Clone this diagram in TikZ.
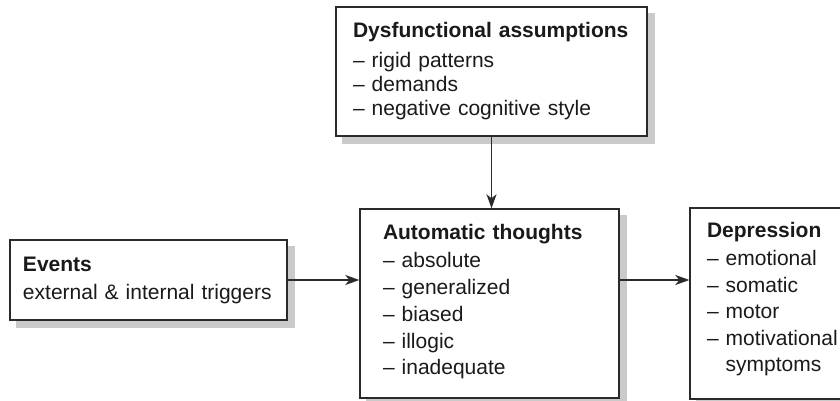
\documentclass[tikz,border=0pt]{standalone}
\usepackage{fontspec}
\setmainfont{Liberation Sans}
\usetikzlibrary{arrows.meta,backgrounds}

\definecolor{boxline}{HTML}{2A2A2A}
\definecolor{textdark}{HTML}{1A1A1A}
\definecolor{shadowgray}{HTML}{CACACA}

\tikzset{
  stage/.style={draw=boxline, line width=1.4pt, fill=white, text=textdark,
    align=left, inner ysep=0pt, font=\fontsize{21}{#1}\selectfont},
  flow/.style={draw=boxline, line width=1.4pt, -{Stealth[length=14pt,width=10pt,inset=4pt]}}
}

\begin{document}
\begin{tikzpicture}[x=1pt,y=1pt]
  \clip (0,0) rectangle (840,400);

  % boxes
  \node [stage=24, text width=277pt, inner xsep=17pt, minimum height=129pt] (dys) at (491.5,328.5)
    {\mbox{\textbf{Dysfunctional assumptions}}\\[6pt]
     -- rigid patterns\\ -- demands\\ -- negative cognitive style};
  \node [stage=28, text width=251pt, inner xsep=13pt, minimum height=80pt] (events) at (148.5,120)
    {\textbf{Events}\\ external \& internal triggers};
  \node [stage=26.7, text width=213pt, inner xsep=23pt, minimum height=189pt] (auto) at (489.5,96.5)
    {\textbf{Automatic thoughts}\\[1.8pt]
     -- absolute\\ -- generalized\\ -- biased\\ -- illogic\\ -- inadequate\rule[-8pt]{0pt}{1pt}};
  \node [stage=26.5, text width=166pt, inner xsep=17pt, minimum height=191pt] (dep) at (790,96.5)
    {\textbf{Depression}\\[2pt]
     -- emotional\\ -- somatic\\ -- motor\\ -- motivational\\ \phantom{-- }symptoms\rule[-13.5pt]{0pt}{1pt}};

  % shadows
  \begin{scope}[on background layer]
    \foreach \b in {dys,events,auto,dep}
      \fill [shadowgray] ([shift={(7pt,-7pt)}]\b.south west) rectangle ([shift={(7pt,-7pt)}]\b.north east);
  \end{scope}

  % arrows
  \draw [flow] (dys.south) -- (dys.south |- auto.north);
  \draw [flow] (events.east) -- (events.east -| auto.west);
  \draw [flow] (events.east -| auto.east) -- (events.east -| dep.west);
\end{tikzpicture}
\end{document}
